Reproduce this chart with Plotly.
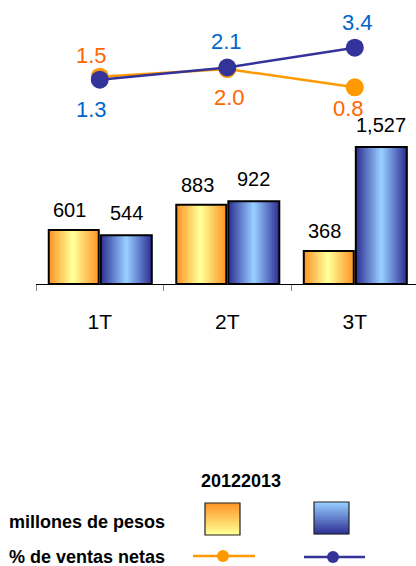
import plotly.graph_objects as go

# ---- data ----
quarters = ["1T", "2T", "3T"]
years = ["2012", "2013"]
pesos_2012 = [601, 883, 368]
pesos_2013 = [544, 922, 1527]
pct_2012 = [1.5, 2.0, 0.8]
pct_2013 = [1.3, 2.1, 3.4]
row_labels = ["millones de pesos", "% de ventas netas"]

# ---- label placement (styling, pixels) ----
pct_2012_label_dx = [-8, 2, -6]
pct_2012_label_dy = [21, -28, -21]
pct_2013_label_dx = [-8, -1, 3]
pct_2013_label_dy = [-30, 26, 25]

W, H = 416, 566
ML = 36
FONT = "Arial, Liberation Sans, sans-serif"

ORANGE_EDGE = (255, 150, 40)
ORANGE_MID = (255, 255, 150)
BLUE_EDGE = (48, 52, 150)
BLUE_MID = (150, 204, 255)


def mix(a, b, t):
    return "rgb(%d,%d,%d)" % tuple(round(a[i] + (b[i] - a[i]) * t) for i in range(3))


def px_x(px):
    return (px - ML) / (W - ML)


def px_y(py):
    return 1 - py / H


fig = go.Figure()
annotations = []


def gradient_bars(values, off, w, edge, mid, c=0.5, n=14, label_dx=0, label_dy=20):
    for k in range(n):
        f = 1 - k / n
        fig.add_trace(go.Bar(
            x=quarters, y=values, offset=off + c * w * (1 - f), width=w * f,
            marker=dict(color=mix(edge, mid, k / (n - 1)), line=dict(width=0)),
            hoverinfo="skip", showlegend=False, xaxis="x", yaxis="y"))
    fig.add_trace(go.Bar(
        x=quarters, y=values, offset=off, width=w,
        marker=dict(color="rgba(0,0,0,0)", line=dict(color="black", width=2)),
        showlegend=False, xaxis="x", yaxis="y"))
    for i, v in enumerate(values):
        annotations.append(dict(
            x=i + off + w / 2, y=v, xref="x", yref="y", text=f"{v:,}",
            showarrow=False, yanchor="middle", xshift=label_dx, yshift=label_dy,
            font=dict(family=FONT, size=20, color="black")))


gradient_bars(pesos_2012, -0.40, 0.392, ORANGE_EDGE, ORANGE_MID, c=0.48, label_dx=-4, label_dy=20)
gradient_bars(pesos_2013, 0.008, 0.40, BLUE_EDGE, BLUE_MID, c=0.5, label_dx=0, label_dy=22)


def line_series(values, color, text_color, dx, dy):
    fig.add_trace(go.Scatter(
        x=quarters, y=values, mode="lines+markers",
        line=dict(color=color, width=2.5), marker=dict(size=18, color=color),
        cliponaxis=False, showlegend=False, xaxis="x", yaxis="y2"))
    for i, v in enumerate(values):
        annotations.append(dict(
            x=quarters[i], y=v, xref="x", yref="y2", text=f"{v:.1f}",
            showarrow=False, yanchor="middle", xshift=dx[i], yshift=dy[i],
            font=dict(family=FONT, size=22, color=text_color)))


line_series(pct_2012, "#FF9900", "#FF6600", pct_2012_label_dx, pct_2012_label_dy)
line_series(pct_2013, "#333399", "#0066CC", pct_2013_label_dx, pct_2013_label_dy)

# ---- custom legend table ----
shapes = []
annotations.append(dict(text="<b>" + "".join(years) + "</b>", x=px_x(241), y=px_y(481),
                        xref="paper", yref="paper", xanchor="center", yanchor="middle",
                        showarrow=False, font=dict(family=FONT, size=18, color="black")))
for lbl, py in zip(row_labels, [522, 557]):
    annotations.append(dict(text="<b>" + lbl + "</b>", x=px_x(7), y=px_y(py),
                            xref="paper", yref="paper", xanchor="left", yanchor="middle",
                            showarrow=False, font=dict(family=FONT, size=18, color="black")))


def legend_square(x0, x1, y0, y1, top, bottom, n=16):
    h = (y1 - y0) / n
    for k in range(n):
        shapes.append(dict(type="rect", xref="paper", yref="paper",
                           x0=px_x(x0), x1=px_x(x1), y0=px_y(y0 + k * h), y1=px_y(y0 + (k + 1) * h + 0.3),
                           fillcolor=mix(top, bottom, k / (n - 1)), line=dict(width=0)))
    shapes.append(dict(type="rect", xref="paper", yref="paper",
                       x0=px_x(x0), x1=px_x(x1), y0=px_y(y0), y1=px_y(y1),
                       line=dict(color="#222222", width=1.2)))


legend_square(205, 240, 503, 535, ORANGE_EDGE, ORANGE_MID)
legend_square(314, 349, 502, 534, BLUE_MID, BLUE_EDGE)


def legend_line(x0, x1, xm, py, color):
    shapes.append(dict(type="line", xref="paper", yref="paper",
                       x0=px_x(x0), x1=px_x(x1), y0=px_y(py), y1=px_y(py),
                       line=dict(color=color, width=2.5)))
    shapes.append(dict(type="circle", xref="paper", yref="paper",
                       x0=px_x(xm - 6), x1=px_x(xm + 6), y0=px_y(py - 6), y1=px_y(py + 6),
                       fillcolor=color, line=dict(width=0)))


legend_line(193, 255, 223, 556, "#FF9900")
legend_line(304, 365, 333, 557, "#333399")

fig.update_layout(
    width=W, height=H, margin=dict(l=ML, r=0, t=0, b=0),
    paper_bgcolor="white", plot_bgcolor="white",
    barmode="overlay", showlegend=False,
    font=dict(family=FONT, color="black"),
    xaxis=dict(type="category", range=[-0.5, 2.48], showgrid=False, zeroline=False,
               showline=True, linecolor="black", linewidth=1,
               ticks="outside", tickson="boundaries", ticklen=6, tickcolor="#888888",
               tickfont=dict(family=FONT, size=21, color="black"), ticklabelstandoff=19,
               anchor="y", fixedrange=True),
    yaxis=dict(domain=[px_y(284), px_y(130)], range=[0, 1716], visible=False,
               showgrid=False, zeroline=False, fixedrange=True),
    yaxis2=dict(domain=[px_y(120), px_y(20)], range=[-1.347, 5.219], visible=False,
                showgrid=False, zeroline=False, anchor="x", fixedrange=True),
    shapes=shapes, annotations=annotations,
)

fig.write_html("out.html", config={"displayModeBar": False},
               post_script="document.body.style.margin='0';document.body.style.padding='0';")
